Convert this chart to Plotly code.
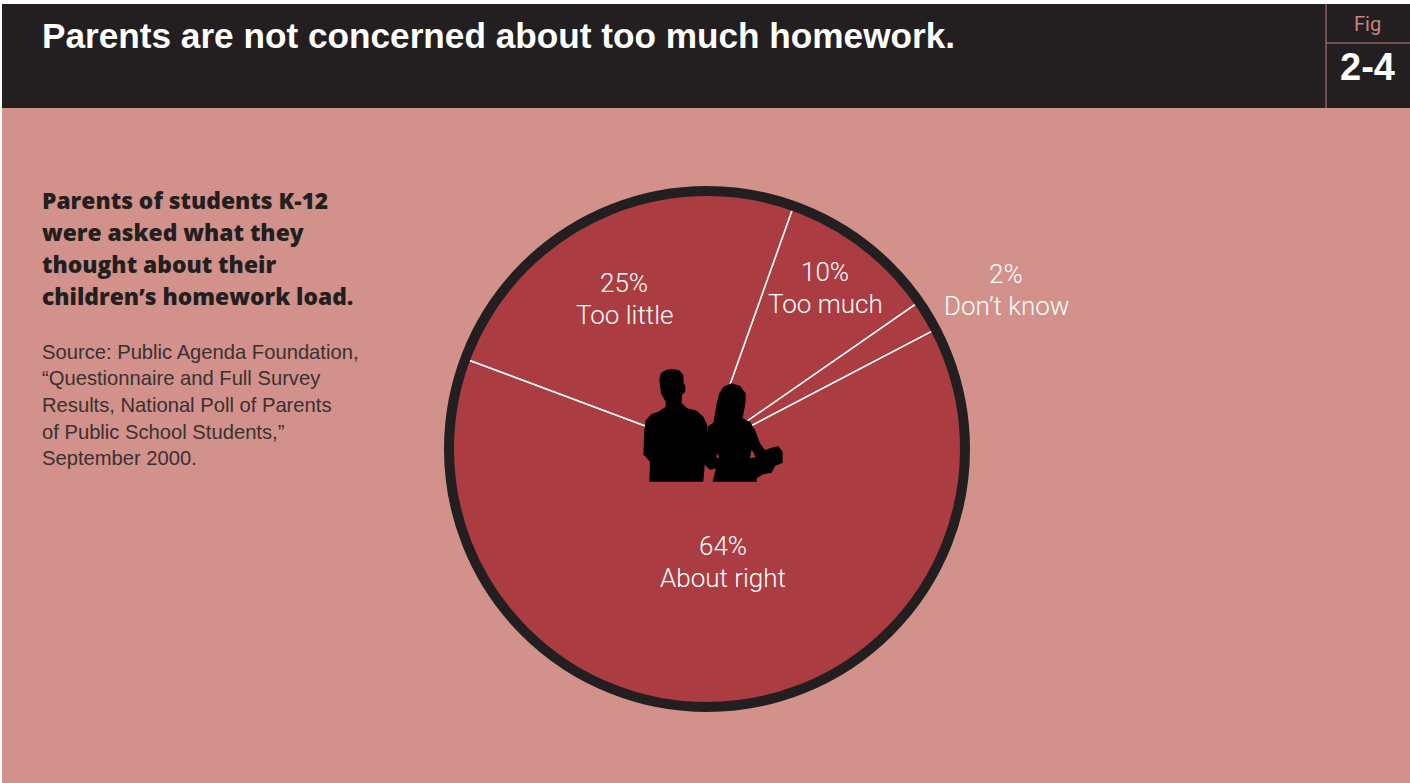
import plotly.graph_objects as go

WIDTH, HEIGHT = 1410, 783

# Survey results, clockwise from the "Too much" slice
CATEGORIES = ["Too much", "Don’t know", "About right", "Too little"]
PERCENTS = [10, 2, 64, 25]
FIRST_SLICE_ANGLE = 19.6

TITLE = "Parents are not concerned about too much homework."
FIG_WORD = "Fig"
FIG_NUMBER = "2-4"
QUESTION_LINES = [
    "Parents of students K-12",
    "were asked what they",
    "thought about their",
    "children’s homework load.",
]
SOURCE_LINES = [
    "Source: Public Agenda Foundation,",
    "“Questionnaire and Full Survey",
    "Results, National Poll of Parents",
    "of Public School Students,”",
    "September 2000.",
]

# Label anchors (pixel x, percent line y, name line y)
LABEL_ANCHORS = {
    "Too much": (825, 271.5, 303.5),
    "Don’t know": (1006, 273.5, 305.5),
    "About right": (723, 545.5, 577.5),
    "Too little": (624, 283.5, 315.5),
}

DARK = "#231f20"
BODY = "#d2918a"
SLICE = "#ab3d42"
RULE = "#8f6060"
FIG_COLOR = "#c9847f"

HEAD_FONT = "Liberation Sans"
QUESTION_FONT = "Open Sans"
TEXT_FONT = "Roboto"


def px(x):
    return x / WIDTH


def py(y):
    return 1 - y / HEIGHT


def outline(points, origin=(600, 340), scale=3):
    """Closed SVG sub-path in paper units from outline points."""
    coords = [(px(origin[0] + a / scale), py(origin[1] + b / scale)) for a, b in points]
    head, *rest = coords
    return f"M{head[0]:.5f},{head[1]:.5f}" + "".join(f"L{a:.5f},{b:.5f}" for a, b in rest) + "Z"


# Silhouettes of the two figures in the middle of the pie
MAN = [
    (148, 425), (150, 365), (135, 348), (130, 345), (133, 270), (137, 240), (155, 222),
    (175, 215), (197, 200), (197, 185), (183, 160), (178, 120), (182, 100), (198, 90),
    (215, 87), (238, 91), (250, 105), (251, 130), (257, 140), (255, 155), (246, 165),
    (245, 190), (262, 205), (290, 212), (310, 230), (322, 255), (320, 345), (315, 365),
    (310, 425),
]
WOMAN = [
    (338, 425), (345, 395), (348, 385), (330, 390), (315, 375), (313, 340), (320, 280),
    (325, 258), (340, 248), (350, 190), (358, 160), (370, 140), (395, 130), (420, 137),
    (437, 160), (437, 185), (428, 235), (450, 245), (465, 270), (480, 310), (495, 330),
    (510, 325), (535, 318), (548, 335), (548, 368), (525, 378), (515, 398), (490, 403),
    (470, 415), (470, 425),
]
ARM_GAP_LEFT = [(350, 340), (350, 356), (358, 350)]
ARM_GAP_RIGHT = [(455, 328), (450, 355), (467, 352)]


def rect(x0, y0, x1, y1, color):
    return dict(type="rect", xref="paper", yref="paper", layer="below",
                x0=px(x0), x1=px(x1), y0=py(y1), y1=py(y0),
                fillcolor=color, line=dict(width=0))


def rule(x0, y0, x1, y1):
    return dict(type="line", xref="paper", yref="paper",
                x0=px(x0), x1=px(x1), y0=py(y0), y1=py(y1),
                line=dict(color=RULE, width=1.5))


def text(x, y, s, size, color, family=TEXT_FONT, weight=400, anchor="center"):
    return dict(x=px(x), y=py(y), xref="paper", yref="paper", text=s, showarrow=False,
                xanchor=anchor, yanchor="middle", borderpad=0, borderwidth=0,
                font=dict(family=family, size=size, color=color, weight=weight))


CX, CY, R = 707, 449, 258

fig = go.Figure(go.Pie(
    labels=CATEGORIES,
    values=PERCENTS,
    sort=False,
    direction="clockwise",
    rotation=FIRST_SLICE_ANGLE,
    textinfo="none",
    hoverinfo="label+text",
    text=[f"{v}%" for v in PERCENTS],
    showlegend=False,
    marker=dict(colors=[SLICE] * len(PERCENTS), line=dict(color="white", width=1.5)),
    domain=dict(x=[px(CX - R), px(CX + R)], y=[py(CY + R), py(CY - R)]),
))

shapes = [
    rect(2, 108, WIDTH, HEIGHT, BODY),
    rect(2, 4, WIDTH, 108, DARK),
    rule(1326, 4, 1326, 108),
    rule(1326, 43, WIDTH, 43),
    dict(type="circle", xref="paper", yref="paper",
         x0=px(CX - R), x1=px(CX + R), y0=py(CY + R), y1=py(CY - R),
         line=dict(color=DARK, width=10), fillcolor="rgba(0,0,0,0)"),
    dict(type="path", xref="paper", yref="paper", path=outline(MAN),
         fillcolor="black", line=dict(width=0)),
    dict(type="path", xref="paper", yref="paper",
         path=outline(WOMAN) + outline(ARM_GAP_LEFT) + outline(ARM_GAP_RIGHT),
         fillcolor="black", line=dict(width=0)),
]

annotations = [
    text(42, 36, TITLE, 35.2, "white", family=HEAD_FONT, weight=700, anchor="left"),
    text(1367, 24, FIG_WORD, 20, FIG_COLOR),
    text(1367, 67, FIG_NUMBER, 38, "white", family=HEAD_FONT, weight=700),
]
for i, line in enumerate(QUESTION_LINES):
    annotations.append(text(42, 200.5 + i * 32, line, 22.8, DARK, family=QUESTION_FONT, weight=800, anchor="left"))
for i, line in enumerate(SOURCE_LINES):
    annotations.append(text(42, 352 + i * 26.5, line, 20.2, "#3a3032", family=HEAD_FONT, anchor="left"))
for name, value in zip(CATEGORIES, PERCENTS):
    x, y_pct, y_name = LABEL_ANCHORS[name]
    annotations.append(text(x, y_pct, f"{value}%", 26, "white", weight=300))
    annotations.append(text(x, y_name, name, 26, "white", weight=300))

fig.update_layout(
    width=WIDTH, height=HEIGHT,
    margin=dict(l=0, r=0, t=0, b=0),
    paper_bgcolor="white",
    shapes=shapes,
    annotations=annotations,
)

fig.write_html("out.html")
